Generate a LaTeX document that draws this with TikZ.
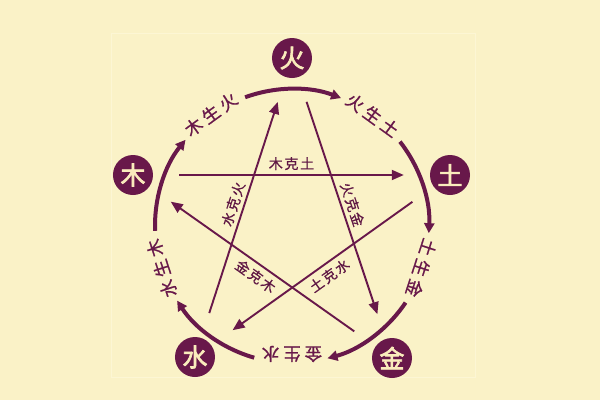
\documentclass[tikz,border=0pt]{standalone}
\usepackage{fontspec}
\newfontfamily\cjkke[LetterSpace=12,FakeBold=0.6]{Noto Sans CJK SC}
\newfontfamily\cjkwide[LetterSpace=22,FakeBold=1]{Noto Sans CJK SC}
\newfontfamily\cjkbold[FakeBold=2.5]{Noto Sans CJK SC}
\usepackage{tikz}
\usetikzlibrary{arrows.meta}
\definecolor{wxpurple}{RGB}{104,24,74}
\definecolor{wxcream}{RGB}{250,236,188}
\definecolor{wxpaper}{RGB}{250,242,199}
\definecolor{wxframe}{RGB}{252,246,212}

\begin{document}
\begin{tikzpicture}[
      elem/.style={circle,fill=wxpurple,text=wxcream,minimum size=40pt,inner sep=0pt,
                   font=\cjkbold\fontsize{25}{25}\selectfont},
      sheng/.style={-{Triangle[length=10pt,width=10pt]},line width=4pt,wxpurple},
      ke/.style={-{Triangle[length=12pt,width=10pt]},line width=1.9pt,wxpurple,
                 shorten <=26pt,shorten >=26pt},
      slbl/.style={text=wxpurple,inner sep=0pt,font=\cjkwide\fontsize{17.5}{17.5}\selectfont},
      klbl/.style={text=wxpurple!90!black,sloped,midway,inner sep=0.5pt,
                   font=\cjkke\fontsize{14}{14}\selectfont}
    ]

    % Paper and faint frame
    \fill[wxpaper] (-292pt,-174pt) rectangle (308pt,226pt);
    \draw[wxframe,line width=1pt] (-180pt,-151pt) rectangle (183pt,193pt);
    \useasboundingbox (-292pt,-174pt) rectangle (308pt,226pt);

    % Five elements
    \node (huo)  [elem] at (0pt,168pt)     {火};
    \node (tu)   [elem] at (158pt,51pt)    {土};
    \node (jin)  [elem] at (100pt,-132pt)  {金};
    \node (shui) [elem] at (-97pt,-131pt)  {水};
    \node (mu)   [elem] at (-159pt,51pt)   {木};

    % Generating cycle (outer arcs)
    \coordinate (a_huo)  at (110:137pt);
    \coordinate (a_tu)   at (38:137pt);
    \coordinate (a_jin)  at (-34:137pt);
    \coordinate (a_shui) at (-106:137pt);
    \coordinate (a_mu)   at (182:137pt);
    \draw[sheng] (a_huo)  arc[start angle=110,  end angle=69,   radius=137pt];
    \draw[sheng] (a_tu)   arc[start angle=38,   end angle=-3,   radius=137pt];
    \draw[sheng] (a_jin)  arc[start angle=-34,  end angle=-75,  radius=137pt];
    \draw[sheng] (a_shui) arc[start angle=-106, end angle=-147, radius=137pt];
    \draw[sheng] (a_mu)   arc[start angle=182,  end angle=141,  radius=137pt];

    \node (s_mh) [slbl,rotate=36]   at (126:138pt) {木生火};
    \node (s_ht) [slbl,rotate=-36]  at (54:137pt)  {火生土};
    \node (s_tj) [slbl,rotate=-108] at (-18:136pt) {土生金};
    \node (s_js) [slbl,rotate=180]  at (-90:128pt) {金生水};
    \node (s_sm) [slbl,rotate=108]  at (198:137pt) {水生木};

    % Overcoming cycle (star)
    \draw[ke] (mu)   -- node[klbl,above=3.5pt] (k_mt) {木克土} (tu);
    \draw[ke] (tu)   -- node[klbl,below=4pt]   (k_ts) {土克水} (shui);
    \draw[ke] (shui) -- node[klbl,above=3pt]   (k_sh) {水克火} (huo);
    \draw[ke] (huo)  -- node[klbl,above=3pt]   (k_hj) {火克金} (jin);
    \draw[ke] (jin)  -- node[klbl,below=4pt]   (k_jm) {金克木} (mu);
  \end{tikzpicture}
\end{document}
